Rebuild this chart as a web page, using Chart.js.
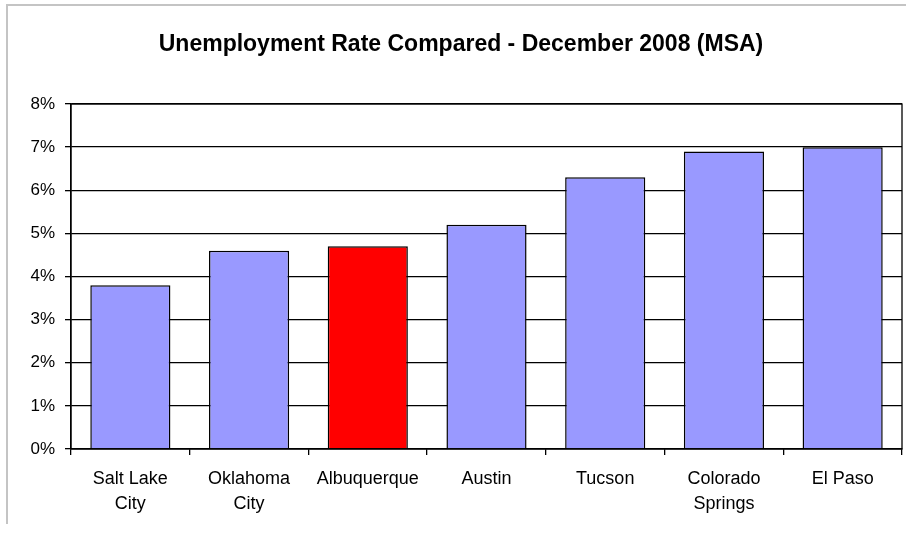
<!DOCTYPE html>
<html>
<head>
<meta charset="utf-8">
<script src="https://cdn.jsdelivr.net/npm/chart.js@4"></script>
<style>
  html, body { margin: 0; padding: 0; background: #fff; }
  #wrap { width: 906px; height: 535px; }
</style>
</head>
<body>
<div id="wrap"><canvas id="unemploymentChart" width="906" height="535"></canvas></div>
<script>
const cities = [["Salt Lake", "City"], ["Oklahoma", "City"], "Albuquerque", "Austin", "Tucson", ["Colorado", "Springs"], "El Paso"];
const rates = [3.8, 4.6, 4.7, 5.2, 6.3, 6.9, 7.0];
const barColors = ["#9999FF", "#9999FF", "#FF0000", "#9999FF", "#9999FF", "#9999FF", "#9999FF"];
const yTickLabels = ["0%", "1%", "2%", "3%", "4%", "5%", "6%", "7%", "8%"];

const frame = {
  id: "frame",
  beforeDraw(chart) {
    const ctx = chart.ctx;
    ctx.save();
    ctx.strokeStyle = "#c4c4c4";
    ctx.lineWidth = 2;
    ctx.beginPath();
    ctx.moveTo(7, 524);
    ctx.lineTo(7, 5);
    ctx.lineTo(906, 5);
    ctx.stroke();
    ctx.restore();
  },
  afterDraw(chart) {
    const a = chart.chartArea;
    const ctx = chart.ctx;
    ctx.save();
    ctx.strokeStyle = "#000";
    ctx.lineWidth = 1.3;
    ctx.strokeRect(a.left, a.top, a.right - a.left, a.bottom - a.top);
    ctx.restore();
  }
};

new Chart(document.getElementById("unemploymentChart"), {
  type: "bar",
  data: {
    labels: cities,
    datasets: [{
      data: rates,
      backgroundColor: barColors,
      borderColor: "#000",
      borderWidth: 1.5,
      barPercentage: 0.675,
      categoryPercentage: 1
    }]
  },
  options: {
    responsive: false,
    animation: false,
    layout: { padding: { left: 20, right: 4, top: 0, bottom: 0 } },
    plugins: {
      legend: { display: false },
      tooltip: { enabled: false },
      title: {
        display: true,
        text: "Unemployment Rate Compared - December 2008 (MSA)",
        color: "#000",
        font: { family: "Liberation Sans", size: 23, weight: "bold", lineHeight: 1.2 },
        padding: { top: 31, bottom: 45.4 }
      }
    },
    scales: {
      x: {
        grid: { drawOnChartArea: false, color: "#000", tickLength: 6, lineWidth: 1.3 },
        border: { color: "#000", width: 1.3 },
        ticks: {
          color: "#000",
          maxRotation: 0,
          autoSkip: false,
          padding: 11,
          font: { family: "Liberation Sans", size: 18, lineHeight: 1.42 }
        },
        afterFit(scale) { scale.height = 86; }
      },
      y: {
        min: 0,
        max: 8,
        grid: { color: "#000", lineWidth: 1.3, tickLength: 6 },
        border: { color: "#000", width: 1.3 },
        ticks: {
          stepSize: 1,
          color: "#000",
          padding: 10,
          font: { family: "Liberation Sans", size: 17 },
          callback: (v, i) => yTickLabels[i]
        },
        afterFit(scale) { scale.width = 51; }
      }
    }
  },
  plugins: [frame]
});
</script>
</body>
</html>
